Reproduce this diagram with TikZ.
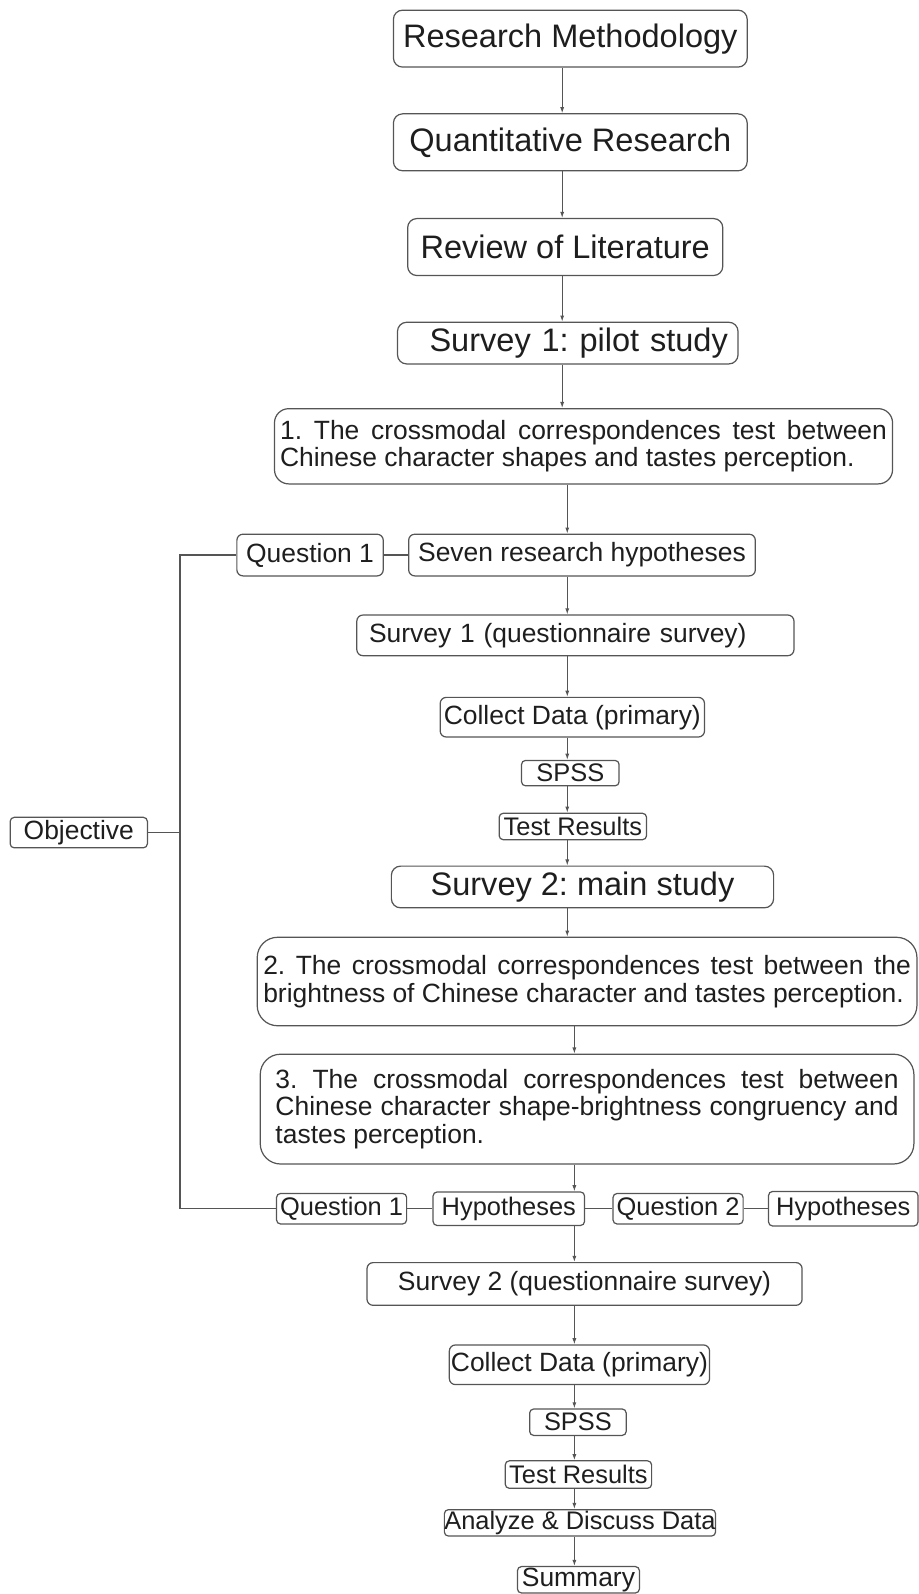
\documentclass[tikz,border=0pt]{standalone}
\usepackage{fontspec}
\setmainfont{Liberation Sans}
\usetikzlibrary{arrows.meta}

\definecolor{boxline}{HTML}{555555}
\definecolor{ink}{HTML}{1E1E1E}

\tikzset{
  box/.style={draw=boxline, line width=1.2pt, text=ink, inner sep=0pt, align=center},
  bigbox/.style={box, rounded corners=9pt, font=\fontsize{32}{38}\selectfont},
  midbox/.style={box, rounded corners=6pt, font=\fontsize{26}{29}\selectfont},
  smallbox/.style={box, rounded corners=4pt, font=\fontsize{25}{28}\selectfont},
  parabox/.style={box, rounded corners=14pt, align=justify, font=\fontsize{26}{27}\selectfont},
  arr/.style={draw=boxline, line width=1pt, -{Latex[length=6pt,width=4pt]}},
  link/.style={draw=boxline, line width=1.2pt}
}

\frenchspacing
\hyphenpenalty=10000
\exhyphenpenalty=10000

\begin{document}
\begin{tikzpicture}[x=1pt,y=-1pt]
  \useasboundingbox (0,0) rectangle (904,1568);

  % main column, first survey
  \node[bigbox, minimum width=348pt, minimum height=56pt] (rm)  at (561,38)  {Research Methodology};
  \node[bigbox, minimum width=348pt, minimum height=56pt] (qr)  at (561,140) {Quantitative Research};
  \node[bigbox, minimum width=310pt, minimum height=56pt] (rol) at (556,243) {Review of Literature};
  \node[bigbox, text width=315pt, align=right, inner xsep=10pt, minimum height=41pt] (s1) at (558.5,337.5) {Survey 1: pilot study};
  \node[parabox, text width=597pt, inner xsep=5.5pt, minimum height=74pt] (t1) at (574,439)
    {1. The crossmodal correspondences test between\linebreak Chinese character shapes and tastes perception.};
  \node[midbox, minimum width=144pt, minimum height=41pt] (q1a)   at (305,546)   {Question 1};
  \node[midbox, minimum width=341pt, minimum height=41pt] (seven) at (572.5,546) {Seven research hypotheses};
  \node[midbox, text width=406pt, align=left, inner xsep=12pt, minimum height=40pt] (s1q) at (566,625) {Survey 1 (questionnaire survey)};
  \node[midbox, minimum width=260pt, minimum height=39pt] (col1)  at (563,705.5) {Collect Data (primary)};
  \node[smallbox, minimum width=96pt, minimum height=25pt] (spss1) at (561,760.5) {SPSS};
  \node[smallbox, minimum width=145pt, minimum height=26pt] (res1) at (563.5,813) {Test Results};

  % main column, second survey
  \node[bigbox, minimum width=376pt, minimum height=41pt] (s2) at (573,872.5) {Survey 2: main study};
  \node[parabox, rounded corners=20pt, text width=637pt, inner xsep=6pt, minimum height=87pt] (t2) at (577.5,965.5)
    {2. The crossmodal correspondences test between the\linebreak brightness of Chinese character and tastes perception.};
  \node[parabox, rounded corners=20pt, text width=613pt, inner xsep=15pt, minimum height=108pt] (t3) at (577.5,1091)
    {3. The crossmodal correspondences test between\linebreak Chinese character shape-brightness congruency and\linebreak tastes perception.};
  \node[smallbox, minimum width=128pt, minimum height=30pt] (q1b)  at (336,1189)   {Question 1};
  \node[smallbox, minimum width=149pt, minimum height=33pt] (hyp1) at (500.5,1189) {Hypotheses};
  \node[smallbox, minimum width=128pt, minimum height=30pt] (q2)   at (667,1189)   {Question 2};
  \node[smallbox, minimum width=147pt, minimum height=34pt] (hyp2) at (829.5,1189) {Hypotheses};
  \node[midbox, minimum width=428pt, minimum height=42pt] (s2q)  at (575,1263)    {Survey 2 (questionnaire survey)};
  \node[midbox, minimum width=256pt, minimum height=39pt] (col2) at (570,1342.5)  {Collect Data (primary)};
  \node[smallbox, minimum width=95pt, minimum height=26pt] (spss2) at (568.5,1399) {SPSS};
  \node[smallbox, minimum width=144pt, minimum height=27pt] (res2) at (569,1450.5) {Test Results};
  \node[smallbox, minimum width=253pt, minimum height=26pt] (ana)  at (570.5,1498) {Analyze \& Discuss Data};
  \node[smallbox, minimum width=120pt, minimum height=26pt, font=\fontsize{26}{29}\selectfont] (sum) at (569,1554) {Summary};

  % objective on the left
  \node[midbox, rounded corners=4pt, minimum width=135pt, minimum height=30pt] (obj) at (77.5,819) {Objective};

  % spine columns and bracket
  \coordinate (sa)  at (553,0);
  \coordinate (sb)  at (558,0);
  \coordinate (sc)  at (565,0);
  \coordinate (brk) at (177,819);

  \draw[arr] (rm.south -| sa)    -- (qr.north -| sa);
  \draw[arr] (qr.south -| sa)    -- (rol.north -| sa);
  \draw[arr] (rol.south -| sa)   -- (s1.north -| sa);
  \draw[arr] (s1.south -| sa)    -- (t1.north -| sa);
  \draw[arr] (t1.south -| sb)    -- (seven.north -| sb);
  \draw[arr] (seven.south -| sb) -- (s1q.north -| sb);
  \draw[arr] (s1q.south -| sb)   -- (col1.north -| sb);
  \draw[arr] (col1.south -| sb)  -- (spss1.north -| sb);
  \draw[arr] (spss1.south -| sb) -- (res1.north -| sb);
  \draw[arr] (res1.south -| sb)  -- (s2.north -| sb);
  \draw[arr] (s2.south -| sb)    -- (t2.north -| sb);
  \draw[arr] (t2.south -| sc)    -- (t3.north -| sc);
  \draw[arr] (t3.south -| sc)    -- (hyp1.north -| sc);
  \draw[arr] (hyp1.south -| sc)  -- (s2q.north -| sc);
  \draw[arr] (s2q.south -| sc)   -- (col2.north -| sc);
  \draw[arr] (col2.south -| sc)  -- (spss2.north -| sc);
  \draw[arr] (spss2.south -| sc) -- (res2.north -| sc);
  \draw[arr] (res2.south -| sc)  -- (ana.north -| sc);
  \draw[arr] (ana.south -| sc)   -- (sum.north -| sc);

  \draw[link] (q1a.east)  -- (seven.west);
  \draw[link] (q1b.east)  -- (hyp1.west);
  \draw[link] (hyp1.east) -- (q2.west);
  \draw[link] (q2.east)   -- (hyp2.west);
  \draw[link] (q1a.west) -| (brk) |- (q1b.west);
  \draw[link] (obj.east) -- (brk);

\end{tikzpicture}
\end{document}
